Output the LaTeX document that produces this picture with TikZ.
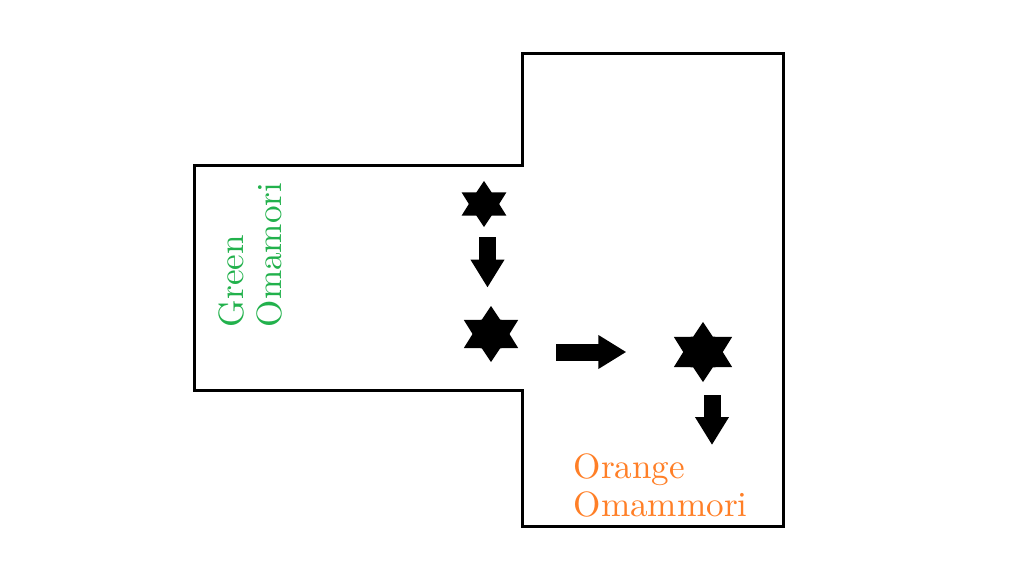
\documentclass[tikz,border=0pt]{standalone}
\usetikzlibrary{shapes.geometric,arrows.meta,calc}
\definecolor{omagreen}{HTML}{22B14C}
\definecolor{omaorange}{HTML}{FF7F27}
\begin{document}
\begin{tikzpicture}[
  hexstar/.style={star, star points=6, star point ratio=1.7, xscale=1.12, fill=black, inner sep=0pt},
  blockarrow/.style={line width=0.17cm, -{Triangle[width=0.32cm,length=0.28cm]}},
  omatext/.style={font=\fontsize{10}{10.8}\selectfont, align=left, inner sep=0pt}
]
% Set the canvas size
\useasboundingbox (0,0) rectangle (10.24,5.71);

% Draw the outline of the room
\draw[line width=0.03cm] (1.94,4.05) -- (5.22,4.05) -- (5.22,5.17) -- (7.83,5.17) -- (7.83,0.45) -- (5.22,0.45) -- (5.22,1.81) -- (1.94,1.81) -- cycle;

% Stars
\node[hexstar, minimum size=0.46cm] (s1) at (4.84,3.67) {};
\node[hexstar, minimum size=0.56cm] (s2) at (4.91,2.37) {};
\node[hexstar, minimum size=0.60cm] (s3) at (7.03,2.19) {};

% Arrows between the stars
\coordinate (m12) at ($(s1.south)!0.5!(s2.north)$);
\draw[blockarrow, shorten <=0.09cm, shorten >=0.17cm] (m12 |- s1.south) -- (m12 |- s2.north);
\draw[blockarrow, shorten <=0.46cm, shorten >=0.56cm] (s2.east |- s3.west) -- (s3.west);
\coordinate (e3) at (7.12,1.26);
\draw[blockarrow, shorten <=0.12cm] ([xshift=0.09cm]s3.south) -- (e3);

% Labels
\node[omatext, text=omagreen, rotate=90, anchor=north west] (green) at (2.18,2.43) {Green\\Omamori};
\node[omatext, text=omaorange, anchor=north west] (orange) at (5.73,1.18) {Orange\\Omammori};
\end{tikzpicture}
\end{document}
